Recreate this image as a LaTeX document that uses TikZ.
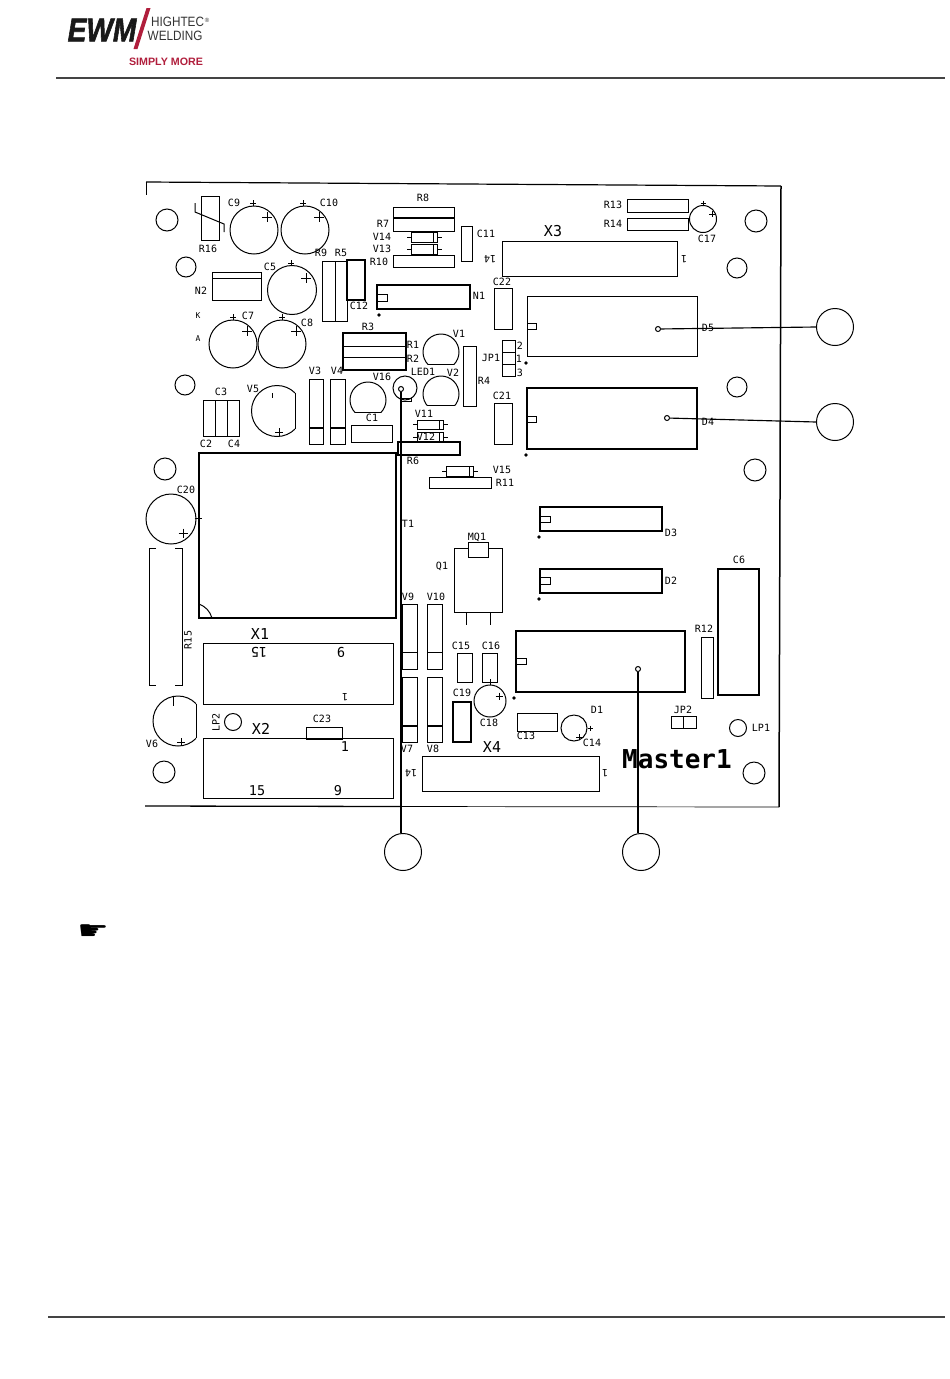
\documentclass[tikz,border=0pt]{standalone}
\usepackage{fontspec}
\setmainfont{Liberation Sans}
\newfontfamily\plotfont{DejaVu Sans Mono}
\newfontfamily\symfont{DejaVu Sans}
\newfontfamily\logofont[FakeBold=2]{Liberation Sans Bold Italic}
\definecolor{ewmred}{HTML}{B01E3C}
\definecolor{rulegrey}{HTML}{444444}
\tikzset{
  part/.style={draw=black,line width=1pt},
  heavy/.style={draw=black,line width=1.35pt},
  lbl/.style={font=\plotfont\fontsize{10}{10}\selectfont,inner sep=0pt,text=black},
  lblbig/.style={font=\plotfont\fontsize{15}{15}\selectfont,inner sep=0pt,text=black},
  lblpin/.style={font=\plotfont\fontsize{13.5}{13.5}\selectfont,inner sep=0pt,text=black},
  callout/.style={circle,draw=black,line width=1pt,minimum size=37pt,inner sep=0pt},
  pinhole/.style={circle,draw=black,line width=1pt,minimum size=5pt,inner sep=0pt,fill=white},
  leader/.style={draw=black,line width=1.15pt},
  blackdot/.style={circle,fill=black,minimum size=3.8pt,inner sep=0pt},
}
\newcommand{\bx}[5][part]{\path[#1] (#2,#3) rectangle (#4,#5);}
\newcommand{\hl}[4][part]{\path[#1] (#2,#4) -- (#3,#4);}
\newcommand{\vl}[4][part]{\path[#1] (#2,#3) -- (#2,#4);}
\newcommand{\cc}[3]{\path[part] (#1,#2) circle[radius=#3];}
\newcommand{\plusm}[3]{\path[part] (#1-#3,#2) -- (#1+#3,#2) (#1,#2-#3) -- (#1,#2+#3);}
\newcommand{\flatb}[4]{% circle cut flat below
  \begin{scope}\clip (#1-#3-2,#2-#3-2) rectangle (#1+#3+2,#2+#4);\cc{#1}{#2}{#3}\end{scope}
  \path[part] ({#1-sqrt(#3*#3-#4*#4)},#2+#4) -- ({#1+sqrt(#3*#3-#4*#4)},#2+#4);}
\newcommand{\flatr}[4]{% circle cut flat right
  \begin{scope}\clip (#1-#3-2,#2-#3-2) rectangle (#1+#4,#2+#3+2);\cc{#1}{#2}{#3}\end{scope}
  \path[part] (#1+#4,{#2-sqrt(#3*#3-#4*#4)}) -- (#1+#4,{#2+sqrt(#3*#3-#4*#4)});}
\newcommand{\diode}[4]{% x1 x2 ytop ybot
  \bx{#1}{#3}{#2}{#4}
  \vl{#2-4}{#3}{#4}
  \path[part] (#1-4,{(#3+#4)/2}) -- (#1,{(#3+#4)/2}) (#2,{(#3+#4)/2}) -- (#2+5,{(#3+#4)/2});}
\begin{document}
\begin{tikzpicture}[x=1pt,y=-1pt]
\useasboundingbox (0,0) rectangle (950,1379);
% ---- header
\node[font=\logofont\fontsize{33}{33}\selectfont,inner sep=0pt,xscale=0.85,text=black!90] (ewm) at (102,30) {EWM};
\fill[ewmred] (146.5,8) -- (150.5,8) -- (137.5,49) -- (133.5,49) -- cycle;
\node[font=\fontsize{13.5}{13.5}\selectfont,inner sep=0pt,anchor=west,xscale=0.87,text=black!80] (hightec) at (151,22) {HIGHTEC};
\node[font=\fontsize{6}{6}\selectfont,inner sep=0pt,text=black!80] (regm) at (207,20) {®};
\node[font=\fontsize{13.5}{13.5}\selectfont,inner sep=0pt,anchor=west,xscale=0.87,text=black!80] (welding) at (147.5,36) {WELDING};
\node[font=\bfseries\fontsize{10.7}{10.7}\selectfont,inner sep=0pt,text=ewmred] (simply) at (166,62) {SIMPLY MORE};
\path[draw=rulegrey,line width=1.2pt] (56,78) -- (945,78);
\path[draw=rulegrey,line width=1.2pt] (48,1317) -- (945,1317);
% ---- board outline
\path[draw=black,line width=1.2pt] (146,182) -- (781,186);
\path[draw=black,line width=1.5pt] (781,186) -- (779,807);
\path[draw=black,line width=1.3pt] (145,806) -- (400,806.5);
\path[draw=black,line width=0.7pt] (400,806.5) -- (779,807);
\path[draw=black,line width=0.9pt] (146,182) -- (146,195);
% ---- mounting holes
\foreach \x/\y/\r in {167/220/11,186/267/10,185/385/10,165/469/11,164/772/11,756/221/11,737/268/10,737/387/10,755/470/11,754/773/11}{\cc{\x}{\y}{\r}}
% ---- capacitors (round)
\foreach \x/\y/\r/\sx/\sy/\bgx/\bgy in {254/230/24/253/203/267/217,305/230/24/303/203/319/217,292/290/24.5/291/263/306/278,233/344/24/233/317/247/331,282/344/24/282/317/296/331}{
  \cc{\x}{\y}{\r}\plusm{\sx}{\sy}{3}\plusm{\bgx}{\bgy}{5}}
\cc{171}{519}{25}\plusm{198}{518}{3.5}\plusm{183}{533}{4.5}
\cc{490}{701}{16}\plusm{490}{682}{3}\plusm{499}{696}{3.5}
\cc{574}{728}{13}\plusm{590}{728}{2.5}\plusm{579}{737}{3}
\cc{703}{219}{13.5}\plusm{703}{203}{2.5}\plusm{712}{214}{3}
\cc{405}{388}{12}\bx{400}{398}{411}{401}
\cc{233}{722}{8.5}\cc{738}{728}{8.5}
% ---- transistors
\flatb{441}{352}{18}{12}\flatb{441}{394}{18}{11}\flatb{368}{400}{18}{12}
\flatr{277}{411}{25.5}{18}\vl{272}{393}{398}\plusm{279}{432}{4}
\flatr{178}{721}{25}{18}\vl{173}{697}{706}\plusm{181}{742}{4}
% ---- rectangular parts
\bx{201}{196}{219}{240}
\path[part] (195,203) -- (195,212) -- (224,224) -- (224,232);
\bx{212}{272}{261}{300}\hl{212}{261}{278}
\bx{322}{261}{347}{321}\vl{335}{261}{321}
\bx[heavy]{347}{260}{365}{300}
\bx{393}{207}{454}{231}\hl[heavy]{393}{454}{218}
\diode{411}{437}{232}{242}\diode{411}{437}{244}{254}
\bx{393}{255}{454}{267}
\bx{461}{226}{472}{261}
\bx[heavy]{377}{285}{470}{309}\bx{377}{294}{387}{301}
\node[blackdot] (dotN) at (379,315) {};
\bx[heavy]{343}{333}{406}{370}\hl{343}{406}{346}\hl{343}{406}{357}
\bx{463}{346}{476}{406}
\bx{203}{400}{239}{436}\vl{215}{400}{436}\vl{227}{400}{436}
\foreach \xa/\xb in {309/323,330/345}{\bx{\xa}{379}{\xb}{444}\hl[heavy]{\xa}{\xb}{428}}
\bx{351}{425}{392}{442}
\diode{417}{443}{420}{429}\diode{417}{443}{432}{442}
\bx[heavy]{398}{442}{460}{455}
\diode{446}{473}{466}{476}
\bx{429}{477}{491}{488}
\bx[heavy]{199}{453}{396}{618}
\path[part] (199,604) to[bend left=25] (212,618);
\path[part] (156,548) -- (149,548) -- (149,685) -- (156,685) (175,548) -- (182,548) -- (182,685) -- (175,685);
\bx{203}{643}{393}{704}\bx{203}{738}{393}{798}
\bx{306}{727}{342}{739}
\foreach \xa/\xb in {402/417,427/442}{
  \bx{\xa}{604}{\xb}{669}\hl{\xa}{\xb}{652}
  \bx{\xa}{677}{\xb}{742}\hl[heavy]{\xa}{\xb}{726}}
\bx{457}{653}{472}{682}\bx{482}{653}{497}{682}
\bx[heavy]{453}{702}{471}{742}
\bx{454}{548}{502}{612}\bx[part,fill=white]{468}{542}{488}{557}
\vl{466}{612}{625}\vl{490}{612}{625}
\node[blackdot] (dotD1) at (514,698) {};
\bx[heavy]{516}{631}{685}{692}\bx{516}{658}{526}{664}
\bx{517}{713}{557}{731}
\bx{422}{756}{599}{791}
\bx{701}{637}{713}{698}
\bx[heavy]{718}{569}{759}{695}
\bx{671}{716}{696}{728}\vl{683}{716}{728}
\bx[heavy]{540}{507}{662}{531}\bx{540}{516}{550}{522}\node[blackdot] (dotD3) at (539,537) {};
\bx[heavy]{540}{569}{662}{593}\bx{540}{577}{550}{584}\node[blackdot] (dotD2) at (539,599) {};
\bx{627}{199}{688}{212}\bx{627}{218}{688}{230}
\bx{502}{241}{677}{276}
\bx{494}{288}{512}{329}\bx{494}{403}{512}{444}
\bx{527}{296}{697}{356}\bx{527}{323}{536}{329}
\bx{502}{340}{515}{376}\hl{502}{515}{352}\hl{502}{515}{364}
\node[blackdot] (dotJP) at (526,363) {};
\bx[heavy]{527}{388}{697}{449}\bx{527}{416}{536}{422}
\node[blackdot] (dotD4) at (526,455) {};
% ---- labels
\foreach \x/\y/\t in {234/203/C9,329/203/C10,208/249/R16,423/198/R8,383/224/R7,382/237/V14,382/249/V13,379/262/R10,486/234/C11,321/253/R9,341/253/R5,270/267/C5,201/291/N2,248/316/C7,307/323/C8,359/306/C12,479/296/N1,368/327/R3,459/334/V1,413/345/R1,413/359/R2,423/372/LED1,453/373/V2,382/377/V16,315/371/V3,337/371/V4,253/389/V5,221/392/C3,206/444/C2,234/444/C4,372/418/C1,424/414/V11,426/437/V12,413/461/R6,484/381/R4,491/358/JP1,520/346/2,519/359/1,520/373/3,502/282/C22,502/396/C21,613/205/R13,613/224/R14,707/239/C17,708/328/D5,708/422/D4,502/470/V15,505/483/R11,408/524/T1,186/490/C20,442/566/Q1,477/537/MQ1,408/597/V9,436/597/V10,407/749/V7,433/749/V8,461/646/C15,491/646/C16,462/693/C19,489/723/C18,597/710/D1,526/736/C13,592/743/C14,683/710/JP2,761/728/LP1,704/629/R12,739/560/C6,671/533/D3,671/581/D2,322/719/C23,152/744/V6}{
  \node[lbl] (L\t) at (\x,\y) {\t};}
\node[lbl,font=\plotfont\fontsize{8}{8}\selectfont] (LK) at (198,316) {K};
\node[lbl,font=\plotfont\fontsize{8}{8}\selectfont] (LA) at (198,339) {A};
\node[lbl,rotate=90] (LRfifteen) at (188,640) {R15};
\node[lbl,rotate=90] (LLPtwo) at (216,722) {LP2};
\node[lblbig] (LXa) at (260,634) {X1};
\node[lblbig] (LXb) at (261,729) {X2};
\node[lblbig] (LXc) at (553,231) {X3};
\node[lblbig] (LXd) at (492,747) {X4};
\node[lblpin,rotate=180] (pa) at (259,652) {15};
\node[lblpin,rotate=180] (pb) at (341,652) {9};
\node[lblpin,rotate=180,font=\plotfont\fontsize{10}{10}\selectfont] (pc) at (345,697) {1};
\node[lblpin] (pd) at (345,747) {1};
\node[lblpin] (pe) at (257,791) {15};
\node[lblpin] (pf) at (338,791) {9};
\node[lbl,rotate=180] (pg) at (490,259) {14};
\node[lbl,rotate=180] (ph) at (684,259) {1};
\node[lbl,rotate=180] (pi) at (411,773) {14};
\node[lbl,rotate=180] (pj) at (605,773) {1};
\node[inner sep=0pt,font=\plotfont\bfseries\fontsize{26}{26}\selectfont] (master) at (677,759) {Master1};
% ---- callouts
\node[callout] (cA) at (835,327) {};
\node[callout] (cB) at (835,422) {};
\node[callout] (cC) at (403,852) {};
\node[callout] (cD) at (641,852) {};
\node[pinhole] (dA) at (658,329) {};
\node[pinhole] (dB) at (667,418) {};
\node[pinhole] (dC) at (401,389) {};
\node[pinhole] (dD) at (638,669) {};
\path[leader] (dA) -- (cA.west);
\path[leader] (dB) -- (cB.west);
\path[leader] (dC) -- (dC |- cC.north);
\path[leader] (dD) -- (dD |- cD.north);
% ---- note hand
\node[inner sep=0pt,xscale=1.35,font=\symfont\fontsize{26}{26}\selectfont] (hand) at (93,932) {☛};
\end{tikzpicture}
\end{document}
